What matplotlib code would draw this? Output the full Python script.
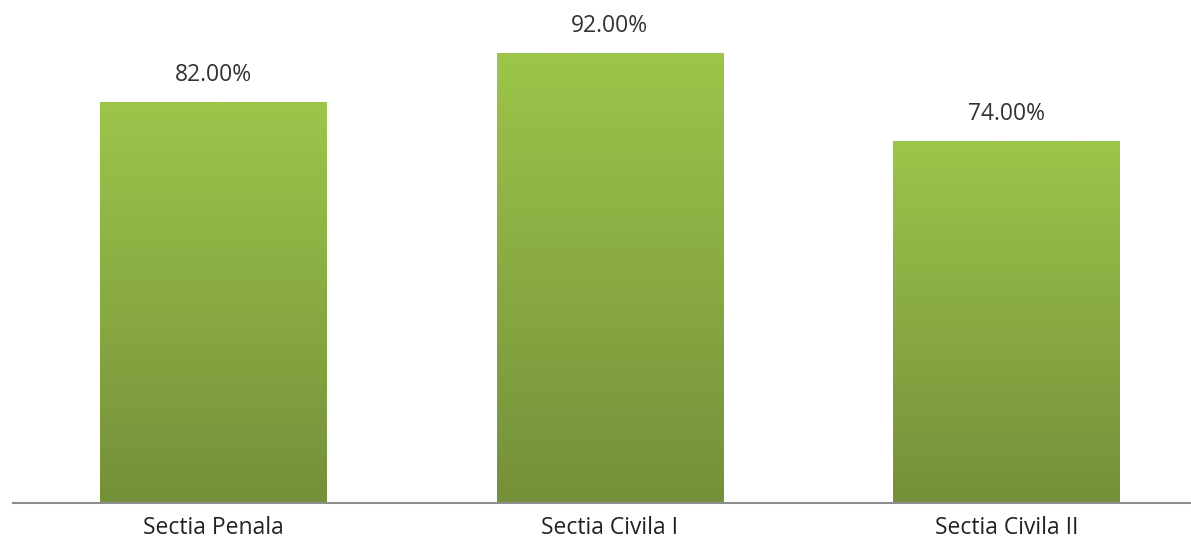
import numpy as np
import matplotlib.pyplot as plt
from matplotlib.colors import LinearSegmentedColormap

categories = ['Sectia Penala', 'Sectia Civila I', 'Sectia Civila II']
values = [82.0, 92.0, 74.0]

fig = plt.figure(figsize=(11.91, 5.48), dpi=100)
ax = fig.add_axes([13/1191, 1-503/548, 1-13/1191, 489/548])

x = np.arange(len(categories))
bars = ax.bar(x, values, width=0.57, color='none', edgecolor='none')

# green gradient, light on top, darker at the bottom
cmap = LinearSegmentedColormap.from_list('g', ['#74903a', '#9dc54a'])
grad = np.linspace(0, 1, 256).reshape(-1, 1)
for b in bars:
    x0, y0 = b.get_x(), b.get_y()
    w, h = b.get_width(), b.get_height()
    im = ax.imshow(grad, cmap=cmap, origin='lower', aspect='auto',
                   extent=[x0, x0+w, y0, y0+h], zorder=2)
    im.set_clip_path(b)

for xi, v in zip(x, values):
    ax.text(xi, v+5.5, "{:.2f}%".format(v), ha='center', va='center',
            fontsize=16.5, color='#333333', family='Open Sans')

ax.set_xlim(-0.504, 2.465)
ax.set_ylim(0, 100)
ax.set_xticks(x)
ax.set_xticklabels(categories, fontsize=16.5, color='#222222', family='Open Sans')
ax.tick_params(axis='x', length=0, pad=9)
ax.set_yticks([])
for s in ['top', 'right', 'left']:
    ax.spines[s].set_visible(False)
ax.spines['bottom'].set_color('#8c8c8c')
ax.spines['bottom'].set_linewidth(1.5)

plt.savefig('out.png', dpi=100)
plt.close()
